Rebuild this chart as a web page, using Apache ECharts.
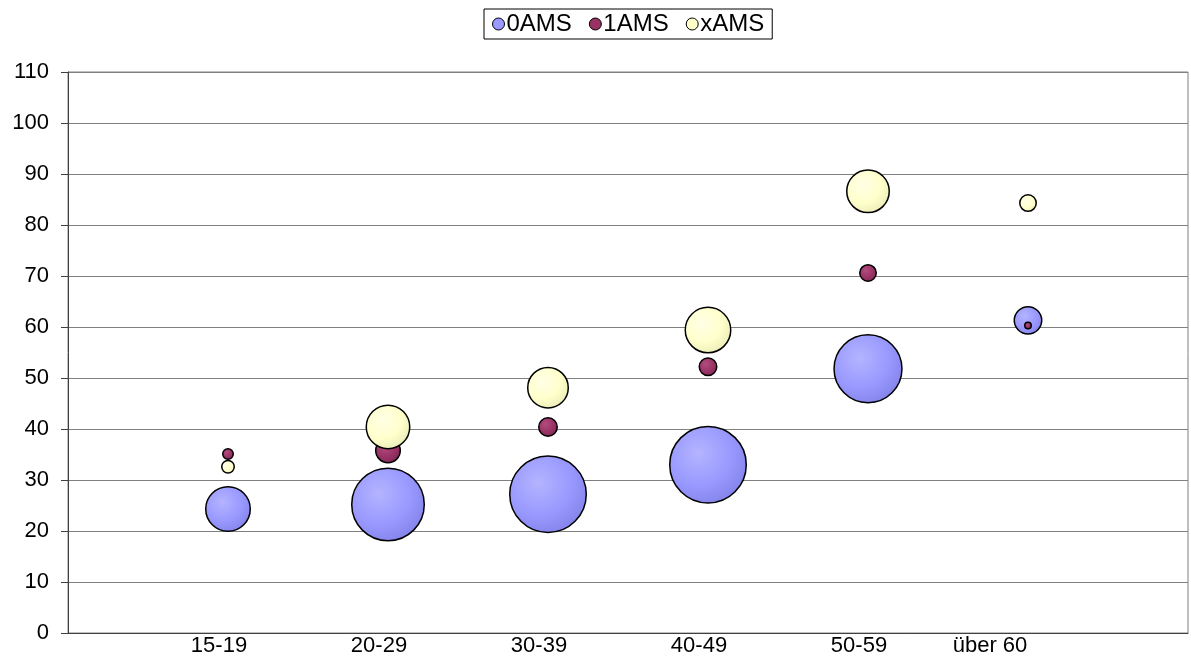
<!DOCTYPE html>
<html>
<head>
<meta charset="utf-8">
<script src="https://cdn.jsdelivr.net/npm/echarts@6/dist/echarts.min.js"></script>
<style>
    html, body { margin: 0; padding: 0; background: #fff; }
    #chart { width: 1191px; height: 657px; }
</style>
</head>
<body>
<div id="chart"></div>
<script>
/*
| Data
*/

const categories = ['15-19', '20-29', '30-39', '40-49', '50-59', 'über 60'];
const seriesNames = ['0AMS', '1AMS', 'xAMS'];

// y values per age group
const ams0Values = [24.3, 25.2, 27.2, 33.0, 51.8, 61.3];
const ams1Values = [35.1, 35.8, 40.4, 52.2, 70.6, 60.3];
const amsxValues = [32.6, 40.4, 48.1, 59.4, 86.6, 84.3];

// bubble sizes (area)
const ams0Sizes = [33.1, 85.6, 95.1, 95.1, 75.3, 13.1];
const ams1Sizes = [2.25, 10.6, 6.25, 5.64, 5.06, 1.0];
const amsxSizes = [3.06, 31.6, 27.6, 34.5, 30.25, 5.06];

const yTicks = { min: 0, max: 110, interval: 10 };

/*
| Styles
*/

const fontFamily = '"Liberation Sans", Arial, sans-serif';

const bubbleColors = [
    { base: '#9999ff', light: '#b4b4ff', dark: '#7f7fe6' },
    { base: '#993366', light: '#b34d80', dark: '#7d2650' },
    { base: '#ffffcc', light: '#ffffe6', dark: '#e8e8b4' },
];

// Excel draws the category labels a bit left of the bubbles (last one more so)
const labelShiftLeft = [9, 9, 9, 9, 9, 38];

function radial(c) {
    return {
        type: 'radial', x: 0.38, y: 0.35, r: 0.75,
        colorStops: [
            { offset: 0, color: c.light },
            { offset: 0.55, color: c.base },
            { offset: 1, color: c.dark },
        ],
    };
}

function bubbleSeries(name, values, sizes, idx) {
    return {
        name,
        type: 'scatter',
        data: values.map((v, i) => [i + 1, v, sizes[i]]),
        symbolSize: d => 8 * Math.sqrt(d[2]) - 1.5,
        itemStyle: {
            color: radial(bubbleColors[idx]),
            borderColor: '#000',
            borderWidth: 1.5,
            opacity: 1,
        },
        emphasis: { disabled: true },
        z: 2 + idx,
    };
}

const labelRich = {};
labelShiftLeft.forEach((s, i) => {
    labelRich['c' + i] = { fontFamily, fontSize: 22, color: '#000', padding: [0, s * 2, 0, 0] };
});

/*
| Chart
*/

const chart = echarts.init(document.getElementById('chart'), null, { renderer: 'canvas' });

chart.setOption({
    animation: false,
    backgroundColor: '#fff',
    legend: {
        top: 9,
        left: 484,
        data: seriesNames.map((n, i) => ({
            name: n,
            icon: 'circle',
            itemStyle: { color: bubbleColors[i].base, borderColor: '#000', borderWidth: 1 },
        })),
        itemWidth: 12,
        itemHeight: 12,
        itemGap: 17,
        padding: [3, 8],
        borderColor: '#000',
        borderWidth: 1,
        textStyle: { fontFamily, fontSize: 24, color: '#000', padding: [0, 0, 0, -3] },
    },
    grid: {
        left: 68, right: 1, top: 72, bottom: 23,
        show: true, borderColor: '#808080', borderWidth: 1,
        containLabel: false,
    },
    xAxis: {
        type: 'value',
        min: 0, max: categories.length + 1, interval: 1,
        axisLine: { show: true, onZero: false, lineStyle: { color: '#404040', width: 1 } },
        axisTick: { show: false },
        splitLine: { show: false },
        axisLabel: {
            fontFamily, fontSize: 22, color: '#000', margin: 2,
            rich: labelRich,
            formatter: v => categories[v - 1] ? `{c${v - 1}|${categories[v - 1]}}` : '',
        },
    },
    yAxis: {
        type: 'value',
        ...yTicks,
        axisLine: { show: true, lineStyle: { color: '#404040', width: 1 } },
        axisTick: { show: true, length: 7, lineStyle: { color: '#404040' } },
        splitLine: { show: true, lineStyle: { color: '#808080', width: 1 } },
        axisLabel: { fontFamily, fontSize: 22, color: '#000', margin: 19 },
    },
    series: [
        bubbleSeries(seriesNames[0], ams0Values, ams0Sizes, 0),
        bubbleSeries(seriesNames[1], ams1Values, ams1Sizes, 1),
        bubbleSeries(seriesNames[2], amsxValues, amsxSizes, 2),
    ],
});
</script>
</body>
</html>
